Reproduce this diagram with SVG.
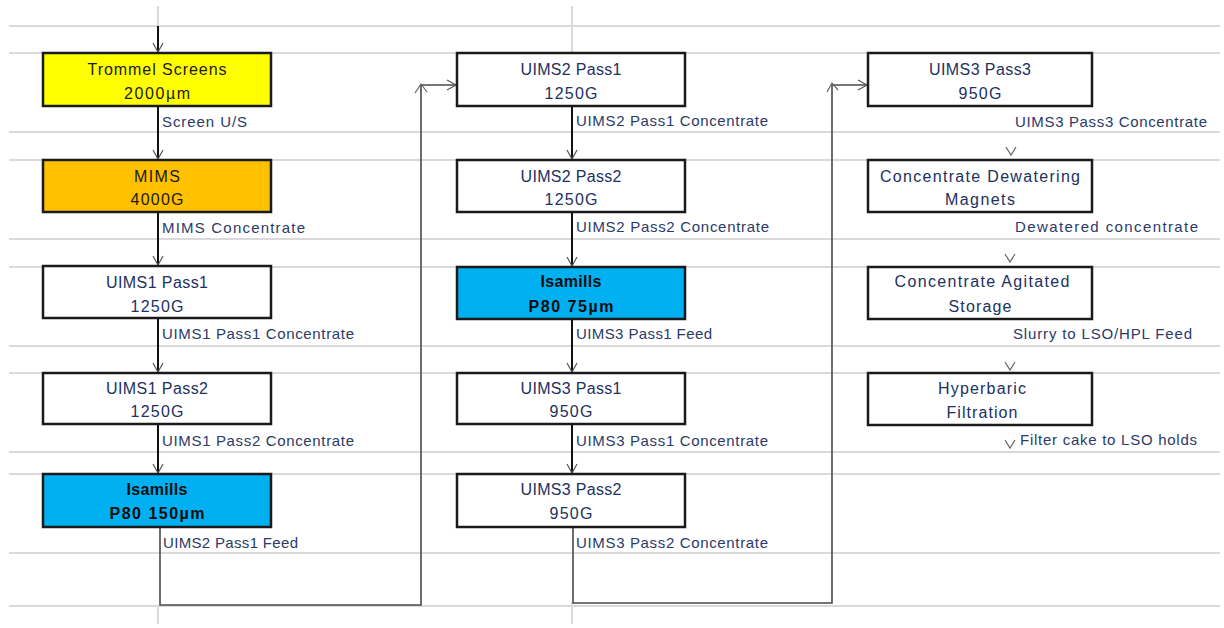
<svg xmlns="http://www.w3.org/2000/svg" width="1224" height="628" viewBox="0 0 1224 628">
<style>
.grid{stroke:#dadada;stroke-width:2;fill:none}
.box{stroke:#1a1a1a;stroke-width:2.5}
.nt{font-family:"Liberation Sans",Arial,sans-serif;font-size:16px;text-anchor:middle;fill:#22305f}
.dk{fill:#1a1a1a}
.bd{font-weight:bold;fill:#0d0d0d}
.lb{font-family:"Liberation Sans",Arial,sans-serif;font-size:15px;fill:#2b3a68}
.flow{stroke:#111;stroke-width:2;fill:none}
.loop{stroke:#4a4a4a;stroke-width:1.6;fill:none}
.chev{stroke:#666;stroke-width:1.2;fill:none}
</style>
<defs>
<marker id="ah" markerWidth="12" markerHeight="12" refX="10" refY="6" orient="auto" markerUnits="userSpaceOnUse">
<path d="M1,1 L10,6 L1,11" fill="none" stroke="#555" stroke-width="1.2"/>
</marker>
</defs>
<rect width="1224" height="628" fill="#fff"/>
<g id="grid">
<path class="grid" d="M9,26H1220M9,53H1220M9,132H1220M9,160H1220M9,239H1220M9,267H1220M9,346H1220M9,373H1220M9,452H1220M9,474H1220M9,553H1220M9,606H1220"/>
<path class="grid" d="M158,6V26M158,606V624M572,6V53M572,602V624"/>
</g>
<g id="connectors">
<path class="flow" d="M158,26V52" marker-end="url(#ah)"/>
<path class="flow" d="M158,106V159" marker-end="url(#ah)"/>
<path class="flow" d="M158,212V265" marker-end="url(#ah)"/>
<path class="flow" d="M158,318V372" marker-end="url(#ah)"/>
<path class="flow" d="M158,424V473" marker-end="url(#ah)"/>
<path class="loop" d="M160,528V605H421V85H456" marker-end="url(#ah)"/>
<path class="chev" d="M415,93L421,84L427,92"/>
<path class="flow" d="M572,106V159" marker-end="url(#ah)"/>
<path class="flow" d="M572,212V266" marker-end="url(#ah)"/>
<path class="flow" d="M572,319V372" marker-end="url(#ah)"/>
<path class="flow" d="M572,424V473" marker-end="url(#ah)"/>
<path class="loop" d="M573,528V603H832V85H867" marker-end="url(#ah)"/>
<path class="chev" d="M827,92L832,83L838,90"/>
<path class="chev" d="M1006,147L1011,155L1016,147"/>
<path class="chev" d="M1005,254L1010,262L1015,254"/>
<path class="chev" d="M1005,362L1010,370L1015,362"/>
<path class="chev" d="M1005,440L1010,448L1015,440"/>
</g>
<g id="n-trommel">
<rect class="box" x="43" y="53" width="228" height="53" fill="#ffff00"/>
<text class="nt dk" x="157" y="75" textLength="139" lengthAdjust="spacing">Trommel Screens</text>
<text class="nt dk" x="157" y="99" textLength="66" lengthAdjust="spacing">2000µm</text>
</g>
<g id="n-mims">
<rect class="box" x="43" y="160" width="228" height="52" fill="#ffc000"/>
<text class="nt dk" x="157" y="182" textLength="46" lengthAdjust="spacing">MIMS</text>
<text class="nt dk" x="157" y="205" textLength="53" lengthAdjust="spacing">4000G</text>
</g>
<g id="n-uims1p1">
<rect class="box" x="43" y="266" width="228" height="52" fill="#fff"/>
<text class="nt" x="157" y="288" textLength="102" lengthAdjust="spacing">UIMS1 Pass1</text>
<text class="nt" x="157" y="312" textLength="53" lengthAdjust="spacing">1250G</text>
</g>
<g id="n-uims1p2">
<rect class="box" x="43" y="373" width="228" height="51" fill="#fff"/>
<text class="nt" x="157" y="394" textLength="102" lengthAdjust="spacing">UIMS1 Pass2</text>
<text class="nt" x="157" y="417" textLength="53" lengthAdjust="spacing">1250G</text>
</g>
<g id="n-isa150">
<rect class="box" x="43" y="474" width="228" height="53" fill="#00b0f0"/>
<text class="nt bd" x="157" y="495" textLength="61" lengthAdjust="spacing">Isamills</text>
<text class="nt bd" x="157" y="519" textLength="95" lengthAdjust="spacing">P80 150µm</text>
</g>
<g id="n-uims2p1">
<rect class="box" x="457" y="53" width="228" height="53" fill="#fff"/>
<text class="nt" x="571" y="75" textLength="101" lengthAdjust="spacing">UIMS2 Pass1</text>
<text class="nt" x="571" y="99" textLength="53" lengthAdjust="spacing">1250G</text>
</g>
<g id="n-uims2p2">
<rect class="box" x="457" y="160" width="228" height="52" fill="#fff"/>
<text class="nt" x="571" y="182" textLength="101" lengthAdjust="spacing">UIMS2 Pass2</text>
<text class="nt" x="571" y="205" textLength="53" lengthAdjust="spacing">1250G</text>
</g>
<g id="n-isa75">
<rect class="box" x="457" y="267" width="228" height="52" fill="#00b0f0"/>
<text class="nt bd" x="571" y="287" textLength="61" lengthAdjust="spacing">Isamills</text>
<text class="nt bd" x="571" y="312" textLength="85" lengthAdjust="spacing">P80 75µm</text>
</g>
<g id="n-uims3p1">
<rect class="box" x="457" y="373" width="228" height="51" fill="#fff"/>
<text class="nt" x="571" y="394" textLength="101" lengthAdjust="spacing">UIMS3 Pass1</text>
<text class="nt" x="571" y="417" textLength="43" lengthAdjust="spacing">950G</text>
</g>
<g id="n-uims3p2">
<rect class="box" x="457" y="474" width="228" height="53" fill="#fff"/>
<text class="nt" x="571" y="495" textLength="101" lengthAdjust="spacing">UIMS3 Pass2</text>
<text class="nt" x="571" y="519" textLength="43" lengthAdjust="spacing">950G</text>
</g>
<g id="n-uims3p3">
<rect class="box" x="868" y="53" width="224" height="53" fill="#fff"/>
<text class="nt" x="980" y="75" textLength="102" lengthAdjust="spacing">UIMS3 Pass3</text>
<text class="nt" x="980" y="99" textLength="43" lengthAdjust="spacing">950G</text>
</g>
<g id="n-dewater">
<rect class="box" x="868" y="160" width="224" height="52" fill="#fff"/>
<text class="nt" x="980" y="182" textLength="200" lengthAdjust="spacing">Concentrate Dewatering</text>
<text class="nt" x="980" y="205" textLength="70" lengthAdjust="spacing">Magnets</text>
</g>
<g id="n-storage">
<rect class="box" x="868" y="267" width="224" height="52" fill="#fff"/>
<text class="nt" x="982" y="287" textLength="175" lengthAdjust="spacing">Concentrate Agitated</text>
<text class="nt" x="980" y="312" textLength="63" lengthAdjust="spacing">Storage</text>
</g>
<g id="n-hyper">
<rect class="box" x="868" y="373" width="224" height="52" fill="#fff"/>
<text class="nt" x="982" y="394" textLength="88" lengthAdjust="spacing">Hyperbaric</text>
<text class="nt" x="982" y="418" textLength="71" lengthAdjust="spacing">Filtration</text>
</g>
<g id="labels">
<text class="lb" x="162" y="127" textLength="85" lengthAdjust="spacing">Screen U/S</text>
<text class="lb" x="162" y="233" textLength="143" lengthAdjust="spacing">MIMS Concentrate</text>
<text class="lb" x="162" y="339" textLength="192" lengthAdjust="spacing">UIMS1 Pass1 Concentrate</text>
<text class="lb" x="162" y="446" textLength="192" lengthAdjust="spacing">UIMS1 Pass2 Concentrate</text>
<text class="lb" x="163" y="548" textLength="135" lengthAdjust="spacing">UIMS2 Pass1 Feed</text>
<text class="lb" x="576" y="126" textLength="192" lengthAdjust="spacing">UIMS2 Pass1 Concentrate</text>
<text class="lb" x="576" y="232" textLength="193" lengthAdjust="spacing">UIMS2 Pass2 Concentrate</text>
<text class="lb" x="576" y="339" textLength="136" lengthAdjust="spacing">UIMS3 Pass1 Feed</text>
<text class="lb" x="576" y="446" textLength="192" lengthAdjust="spacing">UIMS3 Pass1 Concentrate</text>
<text class="lb" x="576" y="548" textLength="192" lengthAdjust="spacing">UIMS3 Pass2 Concentrate</text>
<text class="lb" x="1015" y="127" textLength="192" lengthAdjust="spacing">UIMS3 Pass3 Concentrate</text>
<text class="lb" x="1015" y="232" textLength="183" lengthAdjust="spacing">Dewatered concentrate</text>
<text class="lb" x="1013" y="339" textLength="179" lengthAdjust="spacing">Slurry to LSO/HPL Feed</text>
<text class="lb" x="1020" y="445" textLength="177" lengthAdjust="spacing">Filter cake to LSO holds</text>
</g>
</svg>
